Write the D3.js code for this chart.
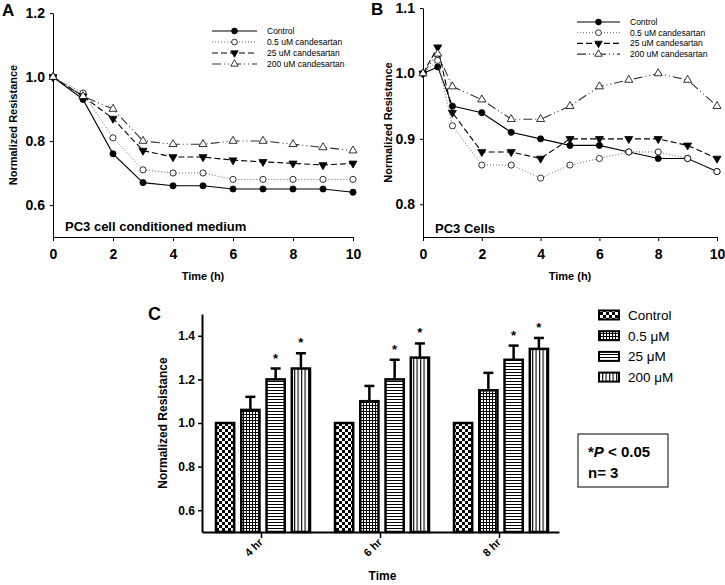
<!DOCTYPE html>
<html><head><meta charset="utf-8">
<script src="https://cdn.jsdelivr.net/npm/d3@7"></script>
<style>
body{margin:0;background:#fff}
text{font-family:"Liberation Sans",Arial,sans-serif;fill:#000}
</style>
</head><body><div id="chart"></div>
<script>
// ---- data ----
var timeA = [0, 1, 2, 3, 4, 5, 6, 7, 8, 9, 10];
var controlA = [1.0, 0.93, 0.76, 0.67, 0.66, 0.66, 0.65, 0.65, 0.65, 0.65, 0.64];
var halfA = [1.0, 0.95, 0.81, 0.71, 0.70, 0.70, 0.68, 0.68, 0.68, 0.68, 0.68];
var c25A = [1.0, 0.94, 0.87, 0.77, 0.75, 0.75, 0.74, 0.735, 0.73, 0.725, 0.73];
var c200A = [1.0, 0.94, 0.90, 0.80, 0.79, 0.79, 0.80, 0.80, 0.79, 0.78, 0.77];

var timeB = [0, 0.5, 1, 2, 3, 4, 5, 6, 7, 8, 9, 10];
var controlB = [1.0, 1.01, 0.95, 0.94, 0.91, 0.90, 0.89, 0.89, 0.88, 0.87, 0.87, 0.85];
var halfB = [1.0, 1.02, 0.92, 0.86, 0.86, 0.84, 0.86, 0.87, 0.88, 0.88, 0.87, 0.85];
var c25B = [1.0, 1.04, 0.94, 0.88, 0.88, 0.87, 0.90, 0.90, 0.90, 0.90, 0.89, 0.87];
var c200B = [1.0, 1.03, 0.98, 0.96, 0.93, 0.93, 0.95, 0.98, 0.99, 1.00, 0.99, 0.95];

var lineLabels = ["Control", "0.5 uM candesartan", "25 uM candesartan", "200 uM candesartan"];

var groupsC = ["4 hr", "6 hr", "8 hr"];
var doseC = ["Control", "0.5 \u03bcM", "25 \u03bcM", "200 \u03bcM"];
var meansC = [[1.0, 1.06, 1.20, 1.25], [1.0, 1.10, 1.20, 1.30], [1.0, 1.15, 1.29, 1.34]];
var errC = [[0, 0.06, 0.05, 0.07], [0, 0.07, 0.09, 0.065], [0, 0.08, 0.065, 0.05]];
var sigC = [[false, false, true, true], [false, false, true, true], [false, false, true, true]];

var svg = d3.select("#chart").append("svg")
    .attr("width", 725).attr("height", 585);

// ---- patterns for bars ----
var defs = svg.append("defs");
var p = defs.append("pattern").attr("id", "pat0").attr("patternUnits", "userSpaceOnUse")
    .attr("width", 6).attr("height", 6);
p.append("rect").attr("width", 6).attr("height", 6).attr("fill", "#fff");
p.append("rect").attr("width", 3).attr("height", 3).attr("fill", "#000");
p.append("rect").attr("x", 3).attr("y", 3).attr("width", 3).attr("height", 3).attr("fill", "#000");

p = defs.append("pattern").attr("id", "pat1").attr("patternUnits", "userSpaceOnUse")
    .attr("width", 3).attr("height", 3);
p.append("rect").attr("width", 3).attr("height", 3).attr("fill", "#fff");
p.append("path").attr("d", "M0,0.5H3M0.5,0V3").attr("stroke", "#000").attr("stroke-width", 1);

p = defs.append("pattern").attr("id", "pat2").attr("patternUnits", "userSpaceOnUse")
    .attr("width", 3).attr("height", 3);
p.append("rect").attr("width", 3).attr("height", 3).attr("fill", "#fff");
p.append("path").attr("d", "M0,0.5H3").attr("stroke", "#000").attr("stroke-width", 1);

p = defs.append("pattern").attr("id", "pat3").attr("patternUnits", "userSpaceOnUse")
    .attr("width", 3.5).attr("height", 3);
p.append("rect").attr("width", 3.5).attr("height", 3).attr("fill", "#fff");
p.append("path").attr("d", "M0.6,0V3").attr("stroke", "#000").attr("stroke-width", 1.1);

// ---- line panels ----
var styles = [
  { dash: null, color: "#000", width: 1.1, sym: d3.symbolCircle, fill: "#000", rot: 0 },
  { dash: "1,2", color: "#666", width: 1, sym: d3.symbolCircle, fill: "#fff", rot: 0 },
  { dash: "6,3", color: "#000", width: 1.1, sym: d3.symbolTriangle, fill: "#000", rot: 180 },
  { dash: "9,3,1,3,1,3", color: "#333", width: 1.1, sym: d3.symbolTriangle, fill: "#fff", rot: 0 }
];

function linePanel(o) {
  var x = d3.scaleLinear().domain([0, 10]).range([o.left, o.right]);
  var y = d3.scaleLinear().domain(o.yDomain).range([o.bottom, o.top]);
  var g = svg.append("g");

  g.append("g").attr("transform", "translate(0," + o.bottom + ")")
    .call(d3.axisBottom(x).tickValues([0, 2, 4, 6, 8, 10]).tickSize(4).tickSizeOuter(0).tickPadding(8))
    .call(function(a) {
      a.selectAll("text").attr("font-size", 14).attr("font-weight", "bold").attr("font-family", "Liberation Sans, Arial");
      a.select(".domain").attr("stroke-width", 1);
    });
  g.append("g").attr("transform", "translate(" + o.left + ",0)")
    .call(d3.axisLeft(y).tickValues(o.yTicks).tickFormat(d3.format(".1f")).tickSize(3).tickSizeOuter(0).tickPadding(5))
    .call(function(a) {
      a.selectAll("text").attr("font-size", 14).attr("font-weight", "bold").attr("font-family", "Liberation Sans, Arial");
      a.select(".domain").attr("stroke-width", 1);
    });

  var line = d3.line().x(function(d) { return x(d[0]); }).y(function(d) { return y(d[1]); });
  o.series.forEach(function(vals, i) {
    var st = styles[i];
    var pts = o.times.map(function(t, k) { return [t, vals[k]]; });
    g.append("path").datum(pts).attr("d", line).attr("fill", "none")
      .attr("stroke", st.color).attr("stroke-width", st.width)
      .attr("stroke-dasharray", st.dash);
    g.selectAll(null).data(pts).enter().append("path")
      .attr("d", d3.symbol().type(st.sym).size(st.sym === d3.symbolCircle ? 30 : 28))
      .attr("transform", function(d) { return "translate(" + x(d[0]) + "," + y(d[1]) + ") rotate(" + st.rot + ")"; })
      .attr("fill", st.fill).attr("stroke", "#000").attr("stroke-width", 0.8);
  });

  // legend
  lineLabels.forEach(function(lbl, i) {
    var st = styles[i];
    var ly = o.legY + i * o.legDy;
    g.append("line").attr("x1", o.legX).attr("x2", o.legX + o.legW).attr("y1", ly).attr("y2", ly)
      .attr("stroke", st.color).attr("stroke-width", st.width).attr("stroke-dasharray", st.dash);
    g.append("path").attr("d", d3.symbol().type(st.sym).size(st.sym === d3.symbolCircle ? 26 : 24))
      .attr("transform", "translate(" + (o.legX + o.legW / 2) + "," + ly + ") rotate(" + st.rot + ")")
      .attr("fill", st.fill).attr("stroke", "#000").attr("stroke-width", 0.8);
    g.append("text").attr("x", o.legX + o.legW + 10).attr("y", ly + 3)
      .attr("font-size", 8.5).text(lbl);
  });

  g.append("text").attr("x", o.panelX).attr("y", o.panelY)
    .attr("font-size", 17).attr("font-weight", "bold").text(o.panel);
  g.append("text").attr("x", o.noteX).attr("y", o.noteY)
    .attr("font-size", 13).attr("font-weight", "bold").text(o.note);
  g.append("text").attr("x", (o.left + o.right) / 2).attr("y", 280)
    .attr("text-anchor", "middle").attr("font-size", 11).attr("font-weight", "bold").text("Time (h)");
  g.append("text").attr("transform", "translate(" + o.yTitleX + "," + ((o.top + o.bottom) / 2) + ") rotate(-90)")
    .attr("text-anchor", "middle").attr("font-size", 11).attr("font-weight", "bold").text("Normalized Resistance");
}

linePanel({
  left: 53, right: 353, top: 13, bottom: 237, yDomain: [0.5, 1.2], yTicks: [0.6, 0.8, 1.0, 1.2],
  times: timeA, series: [controlA, halfA, c25A, c200A],
  legX: 212, legW: 45, legY: 31, legDy: 11,
  panel: "A", panelX: 2, panelY: 16,
  note: "PC3 cell conditioned medium", noteX: 65, noteY: 231, yTitleX: 17
});
linePanel({
  left: 423, right: 717, top: 8, bottom: 237, yDomain: [0.75, 1.1], yTicks: [0.8, 0.9, 1.0, 1.1],
  times: timeB, series: [controlB, halfB, c25B, c200B],
  legX: 577, legW: 43, legY: 22, legDy: 10.7,
  panel: "B", panelX: 371, panelY: 15,
  note: "PC3 Cells", noteX: 435, noteY: 233, yTitleX: 392
});

// ---- bar panel C ----
var cLeft = 202, cRight = 559, cTop = 314, cBottom = 532;
var xC = d3.scaleBand().domain(groupsC).range([cLeft, cRight]).padding(0);
var xIn = d3.scaleBand().domain(d3.range(4)).range([14, 108]).paddingInner(0.28);
var yC = d3.scaleLinear().domain([0.5, 1.5]).range([cBottom, cTop]);
var gC = svg.append("g");

gC.append("g").attr("transform", "translate(0," + cBottom + ")")
  .call(d3.axisBottom(xC).tickSize(6).tickSizeOuter(0))
  .call(function(a) {
    a.select(".domain").attr("stroke-width", 2);
    a.selectAll(".tick line").attr("stroke-width", 1.5);
    a.selectAll("text").attr("font-size", 11).attr("font-weight", "bold").attr("font-family", "Liberation Sans, Arial")
      .attr("text-anchor", "end").attr("dy", 0).attr("y", 0)
      .attr("transform", "translate(2,11) rotate(-45)");
  });
gC.append("g").attr("transform", "translate(" + cLeft + ",0)")
  .call(d3.axisLeft(yC).tickValues([0.6, 0.8, 1.0, 1.2, 1.4]).tickFormat(d3.format(".1f")).tickSize(4).tickSizeOuter(0).tickPadding(3))
  .call(function(a) {
    a.select(".domain").attr("stroke-width", 2);
    a.selectAll(".tick line").attr("stroke-width", 1.5);
    a.selectAll("text").attr("font-size", 12).attr("font-weight", "bold").attr("font-family", "Liberation Sans, Arial");
  });

groupsC.forEach(function(grp, gi) {
  var gx = xC(grp);
  meansC[gi].forEach(function(v, k) {
    var bx = gx + xIn(k), bw = xIn.bandwidth();
    var cx = bx + bw / 2;
    var e = errC[gi][k];
    if (e > 0) {
      gC.append("line").attr("x1", cx).attr("x2", cx).attr("y1", yC(v)).attr("y2", yC(v + e))
        .attr("stroke", "#000").attr("stroke-width", 2.5);
      gC.append("line").attr("x1", cx - 5).attr("x2", cx + 5).attr("y1", yC(v + e)).attr("y2", yC(v + e))
        .attr("stroke", "#000").attr("stroke-width", 2.5);
    }
    gC.append("rect").attr("x", bx).attr("y", yC(v)).attr("width", bw).attr("height", yC(0.5) - yC(v))
      .attr("fill", "url(#pat" + k + ")").attr("stroke", "#000").attr("stroke-width", 2.5);
    if (sigC[gi][k]) {
      gC.append("text").attr("x", cx).attr("y", yC(v + e) - 6).attr("text-anchor", "middle")
        .attr("font-size", 13).attr("font-weight", "bold").text("*");
    }
  });
});

gC.append("text").attr("x", 148).attr("y", 320).attr("font-size", 18).attr("font-weight", "bold").text("C");
gC.append("text").attr("x", (cLeft + cRight) / 2 + 2).attr("y", 580).attr("text-anchor", "middle")
  .attr("font-size", 12).attr("font-weight", "bold").text("Time");
gC.append("text").attr("transform", "translate(167," + yC(1.0) + ") rotate(-90)")
  .attr("text-anchor", "middle").attr("font-size", 12).attr("font-weight", "bold").text("Normalized Resistance");

// legend C
doseC.forEach(function(lbl, k) {
  var ly = 315 + k * 20.7;
  gC.append("rect").attr("x", 599).attr("y", ly - 4.5).attr("width", 20).attr("height", 9)
    .attr("fill", "url(#pat" + k + ")").attr("stroke", "#000").attr("stroke-width", 2);
  gC.append("text").attr("x", 628).attr("y", ly + 5).attr("font-size", 13.5).text(lbl);
});

// stats box
gC.append("rect").attr("x", 578).attr("y", 434).attr("width", 90).attr("height", 53)
  .attr("fill", "#fff").attr("stroke", "#000").attr("stroke-width", 1);
var t1 = gC.append("text").attr("x", 588).attr("y", 457).attr("font-size", 15).attr("font-weight", "bold");
t1.append("tspan").text("*");
t1.append("tspan").attr("font-style", "italic").text("P");
t1.append("tspan").text(" < 0.05");
gC.append("text").attr("x", 588).attr("y", 478).attr("font-size", 15).attr("font-weight", "bold").text("n= 3");
</script></body></html>
